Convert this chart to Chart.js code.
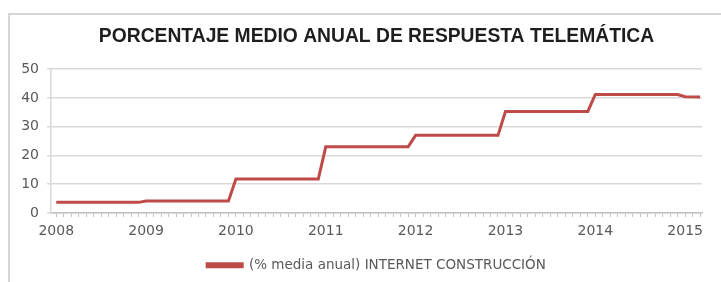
<!DOCTYPE html>
<html>
<head>
<meta charset="utf-8">
<script src="https://cdn.jsdelivr.net/npm/chart.js@4"></script>
<style>
  html, body { margin: 0; padding: 0; background: #fff; overflow: hidden; }
  #frame { position: absolute; left: 8px; top: 13px; width: 760px; height: 320px; border: 2px solid #d6d6d6; }
  #wrap { position: absolute; left: 0; top: 0; width: 721px; height: 282px; }
</style>
</head>
<body>
<div id="frame"></div>
<div id="wrap"><canvas id="myChart" width="721" height="282"></canvas></div>
<script>
// step points of the series (year-month) and their values
const pointMonths = ['2008-01', '2008-12', '2009-01', '2009-12', '2010-01', '2010-12', '2011-01', '2011-12',
                     '2012-01', '2012-12', '2013-01', '2013-12', '2014-01', '2014-12', '2015-01', '2015-03'];
const pointValues = [3.7, 3.7, 4.2, 4.2, 11.8, 11.8, 23, 23,
                     27, 27, 35.3, 35.3, 41.2, 41.2, 40.4, 40.3];
const yearLabels = ['2008', '2009', '2010', '2011', '2012', '2013', '2014', '2015'];
const yTicks = [0, 10, 20, 30, 40, 50];
const seriesName = '(% media anual) INTERNET CONSTRUCCIÓN';
const chartTitle = 'PORCENTAJE MEDIO ANUAL DE RESPUESTA TELEMÁTICA';

document.addEventListener("DOMContentLoaded", function () {
    renderChart();
});

function monthIndex(s) {
    const parts = s.split('-');
    return (parseInt(parts[0]) - 2008) * 12 + parseInt(parts[1]) - 1;
}

function renderChart() {
    const points = pointMonths.map((m, i) => ({ x: monthIndex(m), y: pointValues[i] }));
    var ctx = document.getElementById('myChart').getContext('2d');
    var myChart = new Chart(ctx, {
        type: 'line',
        data: {
            datasets: [{
                label: seriesName,
                data: points,
                borderColor: '#be4b48',
                backgroundColor: '#be4b48',
                borderWidth: 3,
                pointRadius: 0,
                tension: 0
            }]
        },
        options: {
            responsive: false,
            animation: false,
            layout: { padding: { left: 0, right: 19, top: 0, bottom: 0 } },
            plugins: {
                title: {
                    display: true,
                    fullSize: false,
                    text: chartTitle,
                    color: '#1e1e1e',
                    font: { family: 'Liberation Sans', size: 19.3, weight: 'bold' },
                    padding: { top: 25, bottom: 21 }
                },
                legend: {
                    position: 'bottom',
                    fullSize: false,
                    labels: {
                        boxWidth: 35,
                        boxHeight: 3,
                        color: '#595959',
                        font: { family: 'DejaVu Sans', size: 13.5 },
                        padding: 8
                    }
                },
                tooltip: { enabled: false }
            },
            scales: {
                x: {
                    type: 'linear',
                    min: -0.7,
                    max: 86.25,
                    afterFit: function (scale) { scale.height = 37.5; },
                    grid: { drawOnChartArea: false, tickLength: 4, color: '#c4c4c4', lineWidth: 1 },
                    border: { color: '#c4c4c4', width: 1.5 },
                    ticks: {
                        stepSize: 1,
                        autoSkip: false,
                        includeBounds: false,
                        maxRotation: 0,
                        padding: 6,
                        color: '#595959',
                        font: { family: 'DejaVu Sans', size: 14 },
                        callback: function (v) {
                            return v % 12 === 0 ? yearLabels[v / 12] : '';
                        }
                    }
                },
                y: {
                    min: yTicks[0],
                    max: yTicks[yTicks.length - 1],
                    afterFit: function (scale) { scale.width = 51; },
                    grid: { color: '#d9d9d9', lineWidth: 1.5, tickLength: 4 },
                    border: { color: '#d9d9d9', width: 1.5 },
                    ticks: {
                        stepSize: 10,
                        padding: 8,
                        color: '#595959',
                        font: { family: 'DejaVu Sans', size: 14 }
                    }
                }
            }
        }
    });
}
</script>
</body>
</html>
